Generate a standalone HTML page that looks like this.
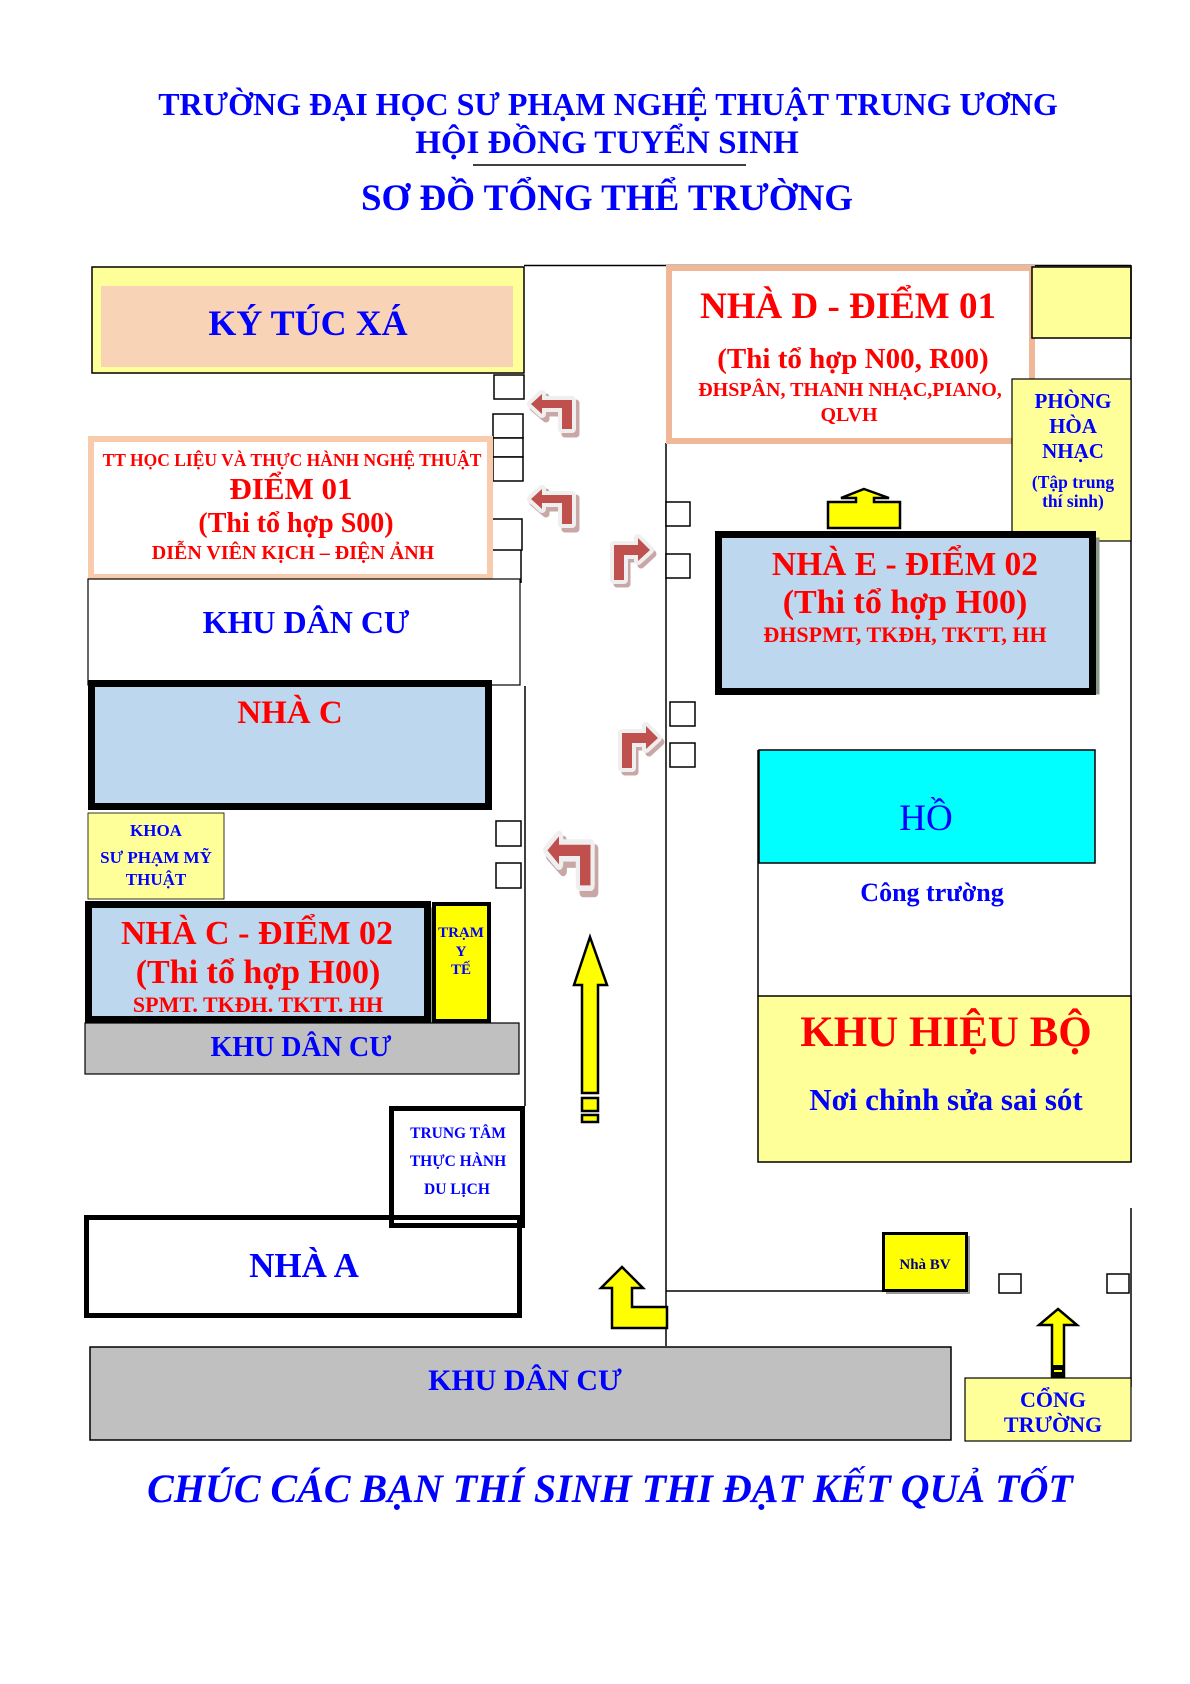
<!DOCTYPE html>
<html><head><meta charset="utf-8"><style>
html,body{margin:0;padding:0;background:#fff;}
svg{display:block;}
text{font-family:"Liberation Serif","DejaVu Serif",serif;font-weight:bold;}
</style></head><body>
<svg width="1190" height="1684" viewBox="0 0 1190 1684" xmlns="http://www.w3.org/2000/svg">
<defs>
<g id="lt">
 <polygon points="11,20 24,9 24,15 54,15 54,46 43,46 43,25 24,25 24,31" fill="#c9a7a7" stroke="#c9a7a7" stroke-width="7" stroke-linejoin="round"/>
 <polygon points="9,16 20,6 20,12 50,12 50,41 40,41 40,20 20,20 20,26" fill="#efefef" stroke="#efefef" stroke-width="8" stroke-linejoin="round"/>
 <polygon points="9,16 20,6 20,12 50,12 50,41 40,41 40,20 20,20 20,26" fill="#c0504d"/>
</g>
<g id="rt">
 <polygon points="7,54 7,19 31,19 31,12 43,24 31,35 31,29 17,29 17,54" fill="#c9a7a7" stroke="#c9a7a7" stroke-width="7" stroke-linejoin="round"/>
 <polygon points="4,50 4,15 28,15 28,8 40,20 28,31 28,25 14,25 14,50" fill="#efefef" stroke="#efefef" stroke-width="8" stroke-linejoin="round"/>
 <polygon points="4,50 4,15 28,15 28,8 40,20 28,31 28,25 14,25 14,50" fill="#c0504d"/>
</g>
</defs>

<!-- Titles -->
<g fill="#0000ff" text-anchor="middle">
<text x="608" y="115" font-size="32">TRƯỜNG ĐẠI HỌC SƯ PHẠM NGHỆ THUẬT TRUNG ƯƠNG</text>
<text x="607" y="153" font-size="33">HỘI ĐỒNG TUYỂN SINH</text>
<text x="607" y="210" font-size="37">SƠ ĐỒ TỔNG THỂ TRƯỜNG</text>
</g>
<line x1="473" y1="165" x2="746" y2="165" stroke="#000" stroke-width="1.5"/>

<!-- top line -->
<line x1="524" y1="265.5" x2="1131" y2="265.5" stroke="#000" stroke-width="1.5"/>

<!-- KTX -->
<rect x="92" y="267" width="432" height="106" fill="#ffff99" stroke="#000" stroke-width="1.5"/>
<rect x="101" y="286" width="412" height="81" fill="#f9d3b5"/>
<text x="308" y="335" font-size="36" fill="#0000ff" text-anchor="middle">KÝ TÚC XÁ</text>

<!-- left road squares -->
<g fill="#fff" stroke="#000" stroke-width="1.5">
<rect x="494" y="375" width="30" height="24"/>
<rect x="493" y="414" width="30" height="24"/>
<rect x="493" y="438" width="30" height="19"/>
<rect x="493" y="457" width="30" height="24"/>
<rect x="492" y="519" width="30" height="31"/>
<rect x="496" y="821" width="25" height="25"/>
<rect x="496" y="863" width="25" height="25"/>
</g>
<line x1="521" y1="550" x2="521" y2="583" stroke="#000" stroke-width="1.5"/>

<!-- TT hoc lieu -->
<rect x="91" y="439" width="399" height="138" fill="#fff" stroke="#f8cbad" stroke-width="6"/>
<g fill="#f00" text-anchor="middle">
<text x="292" y="466" font-size="17.5">TT HỌC LIỆU VÀ THỰC HÀNH NGHỆ THUẬT</text>
<text x="291" y="499" font-size="31">ĐIỂM 01</text>
<text x="296" y="532" font-size="28">(Thi tổ hợp S00)</text>
<text x="293" y="559" font-size="20">DIỄN VIÊN KỊCH – ĐIỆN ẢNH</text>
</g>

<!-- Khu dan cu white -->
<rect x="88" y="579" width="432" height="106" fill="#fff" stroke="#000" stroke-width="1.2"/>
<text x="306" y="633" font-size="32" fill="#0000ff" text-anchor="middle">KHU DÂN CƯ</text>

<!-- Nha C -->
<rect x="94.5" y="686.5" width="397" height="123" fill="#8a9a8a"/>
<rect x="91.5" y="683.5" width="397" height="123" fill="#bdd7ee" stroke="#000" stroke-width="7"/>
<text x="290" y="723" font-size="33" fill="#f00" text-anchor="middle">NHÀ C</text>

<!-- Khoa SPMT -->
<rect x="88" y="813" width="136" height="86" fill="#ffff99" stroke="#000" stroke-width="0.8"/>
<g fill="#0000ff" text-anchor="middle" font-size="17">
<text x="156" y="836" font-size="17">KHOA</text>
<text x="156" y="863" font-size="17">SƯ PHẠM MỸ</text>
<text x="156" y="885" font-size="17">THUẬT</text>
</g>

<!-- Nha C diem 02 -->
<rect x="91.5" y="907.5" width="341" height="115" fill="#8a9a8a"/>
<rect x="88.5" y="904.5" width="339" height="115" fill="#bdd7ee" stroke="#000" stroke-width="7"/>
<g fill="#f00" text-anchor="middle">
<text x="257" y="944" font-size="34">NHÀ C - ĐIỂM 02</text>
<text x="258" y="983" font-size="34">(Thi tổ hợp H00)</text>
<text x="258" y="1012" font-size="22">SPMT. TKĐH. TKTT. HH</text>
</g>

<!-- Tram y te -->
<rect x="434" y="904" width="55" height="117" fill="#ffff00" stroke="#000" stroke-width="4"/>
<g fill="#0000ff" text-anchor="middle">
<text x="461" y="937" font-size="15">TRẠM</text>
<text x="461" y="956" font-size="15">Y</text>
<text x="461" y="974" font-size="15">TẾ</text>
</g>

<!-- KDC grey -->
<rect x="85" y="1023" width="434" height="51" fill="#c0c0c0" stroke="#000" stroke-width="1.2"/>
<text x="301" y="1056" font-size="28" fill="#0000ff" text-anchor="middle">KHU DÂN CƯ</text>

<!-- road lines -->
<line x1="525" y1="686" x2="525" y2="1106" stroke="#000" stroke-width="1.5"/>
<line x1="666" y1="443" x2="666" y2="1346" stroke="#000" stroke-width="1.5"/>

<!-- TT du lich -->
<rect x="391.5" y="1108.5" width="131" height="117" fill="#fff" stroke="#000" stroke-width="5"/>
<g fill="#0000ff" text-anchor="middle">
<text x="458" y="1138" font-size="15.5">TRUNG TÂM</text>
<text x="458" y="1166" font-size="15.5">THỰC HÀNH</text>
<text x="457" y="1194" font-size="15.5">DU LỊCH</text>
</g>

<!-- Nha A -->
<rect x="86.5" y="1217.5" width="433" height="98" fill="none" stroke="#000" stroke-width="5"/>
<text x="304" y="1277" font-size="35" fill="#0000ff" text-anchor="middle">NHÀ A</text>

<!-- big yellow arrow -->
<polygon points="590,937 607,985 598,985 598,1093 582,1093 582,985 574,985" fill="#ffff00" stroke="#000" stroke-width="2.5" stroke-linejoin="miter"/>
<rect x="582" y="1098" width="16" height="13" fill="#ffff00" stroke="#000" stroke-width="2.5"/>
<rect x="582" y="1115" width="16" height="7" fill="#ffff00" stroke="#000" stroke-width="2.5"/>

<!-- L arrow -->
<polygon points="622,1267 643,1288 632,1288 632,1307 667,1307 667,1328 612,1328 612,1288 601,1288" fill="#ffff00" stroke="#000" stroke-width="2.5"/>

<!-- red turn arrows -->
<use href="#lt" x="522" y="388"/>
<use href="#lt" x="522" y="483"/>
<use href="#rt" x="610" y="530"/>
<use href="#rt" x="618" y="718"/>
<g transform="translate(538,828) scale(1.05,1.4)"><use href="#lt"/></g>

<!-- Nha D -->
<rect x="669" y="268" width="363" height="173" fill="#fff" stroke="#f0b898" stroke-width="6"/>
<g fill="#f00" text-anchor="middle">
<text x="848" y="318" font-size="37">NHÀ D - ĐIỂM 01</text>
<text x="853" y="368" font-size="29">(Thi tổ hợp N00, R00)</text>
<text x="850" y="396" font-size="20">ĐHSPÂN,  THANH NHẠC,PIANO,</text>
<text x="849" y="421" font-size="20">QLVH</text>
</g>

<!-- top right yellow -->
<rect x="1032" y="267" width="99" height="71" fill="#ffff99" stroke="#000" stroke-width="1.5"/>
<!-- right outer line -->
<line x1="1131" y1="265" x2="1131" y2="1162" stroke="#000" stroke-width="1.5"/>
<line x1="1131" y1="1208" x2="1131" y2="1387" stroke="#000" stroke-width="1.5"/>

<!-- Phong hoa nhac -->
<rect x="1012" y="379" width="119" height="162" fill="#ffff99" stroke="#000" stroke-width="1.2"/>
<g fill="#0000ff" text-anchor="middle">
<text x="1073" y="408" font-size="21">PHÒNG</text>
<text x="1073" y="433" font-size="21">HÒA</text>
<text x="1073" y="458" font-size="21">NHẠC</text>
<text x="1073" y="488" font-size="17.5">(Tập trung</text>
<text x="1073" y="507" font-size="17.5">thí sinh)</text>
</g>

<!-- small yellow arrow above Nha E -->
<polygon points="864,489 889,498 874,498 874,502 900,502 900,528 828,528 828,502 856,502 856,498 841,498" fill="#ffff00" stroke="#000" stroke-width="2.5"/>

<!-- right squares -->
<g fill="#fff" stroke="#000" stroke-width="1.5">
<rect x="666" y="502" width="24" height="24"/>
<rect x="666" y="554" width="24" height="24"/>
<rect x="670" y="702" width="25" height="24"/>
<rect x="670" y="743" width="25" height="24"/>
<rect x="999" y="1274" width="22" height="19"/>
<rect x="1107" y="1274" width="22" height="19"/>
</g>

<!-- Nha E -->
<rect x="721.5" y="537.5" width="378" height="157" fill="#8a9a8a"/>
<rect x="718.5" y="534.5" width="374" height="157" fill="#bdd7ee" stroke="#000" stroke-width="7"/>
<g fill="#f00" text-anchor="middle">
<text x="905" y="575" font-size="33.5">NHÀ E - ĐIỂM 02</text>
<text x="905" y="613" font-size="34">(Thi tổ hợp H00)</text>
<text x="905" y="642" font-size="22">ĐHSPMT, TKĐH, TKTT, HH</text>
</g>

<!-- Ho -->
<line x1="758" y1="750" x2="758" y2="996" stroke="#000" stroke-width="1.5"/>
<rect x="759" y="750" width="336" height="113" fill="#00ffff" stroke="#000" stroke-width="1.5"/>
<text x="926" y="830" font-size="37" fill="#0000ff" text-anchor="middle" style="font-weight:normal">HỒ</text>
<text x="932" y="901" font-size="26" fill="#0000ff" text-anchor="middle">Công trường</text>

<!-- Khu hieu bo -->
<rect x="758" y="996" width="373" height="166" fill="#ffff99" stroke="#000" stroke-width="1.5"/>
<text x="946" y="1046" font-size="43" fill="#f00" text-anchor="middle">KHU HIỆU BỘ</text>
<text x="946" y="1110" font-size="31" fill="#0000ff" text-anchor="middle">Nơi chỉnh sửa sai sót</text>

<!-- bottom road line -->
<line x1="666" y1="1291" x2="884" y2="1291" stroke="#000" stroke-width="1.5"/>

<!-- Nha BV -->
<rect x="886" y="1236" width="84" height="58" fill="#999"/>
<rect x="883.5" y="1233.5" width="83" height="57" fill="#ffff00" stroke="#000" stroke-width="3"/>
<text x="925" y="1269" font-size="15" fill="#00008b" text-anchor="middle">Nhà BV</text>

<!-- KDC bottom -->
<rect x="90" y="1347" width="861" height="93" fill="#c0c0c0" stroke="#000" stroke-width="1.5"/>
<text x="525" y="1390" font-size="30" fill="#0000ff" text-anchor="middle">KHU DÂN CƯ</text>

<!-- Cong arrow -->
<polygon points="1058,1309 1077,1325 1064,1325 1064,1378 1052,1378 1052,1325 1039,1325" fill="#ffff00" stroke="#000" stroke-width="2.5"/>
<rect x="1052" y="1365" width="12" height="14" fill="#000"/>
<rect x="1054" y="1370" width="8" height="2" fill="#ffff00"/>

<!-- Cong truong -->
<rect x="965" y="1378" width="166" height="63" fill="#ffff99" stroke="#000" stroke-width="1.2"/>
<g fill="#0000ff" text-anchor="middle">
<text x="1053" y="1407" font-size="22">CỔNG</text>
<text x="1053" y="1432" font-size="22">TRƯỜNG</text>
</g>

<!-- footer -->
<text x="610" y="1502" font-size="40" fill="#0000ff" text-anchor="middle" font-style="italic">CHÚC CÁC BẠN THÍ SINH THI ĐẠT KẾT QUẢ TỐT</text>
</svg>
</body></html>
